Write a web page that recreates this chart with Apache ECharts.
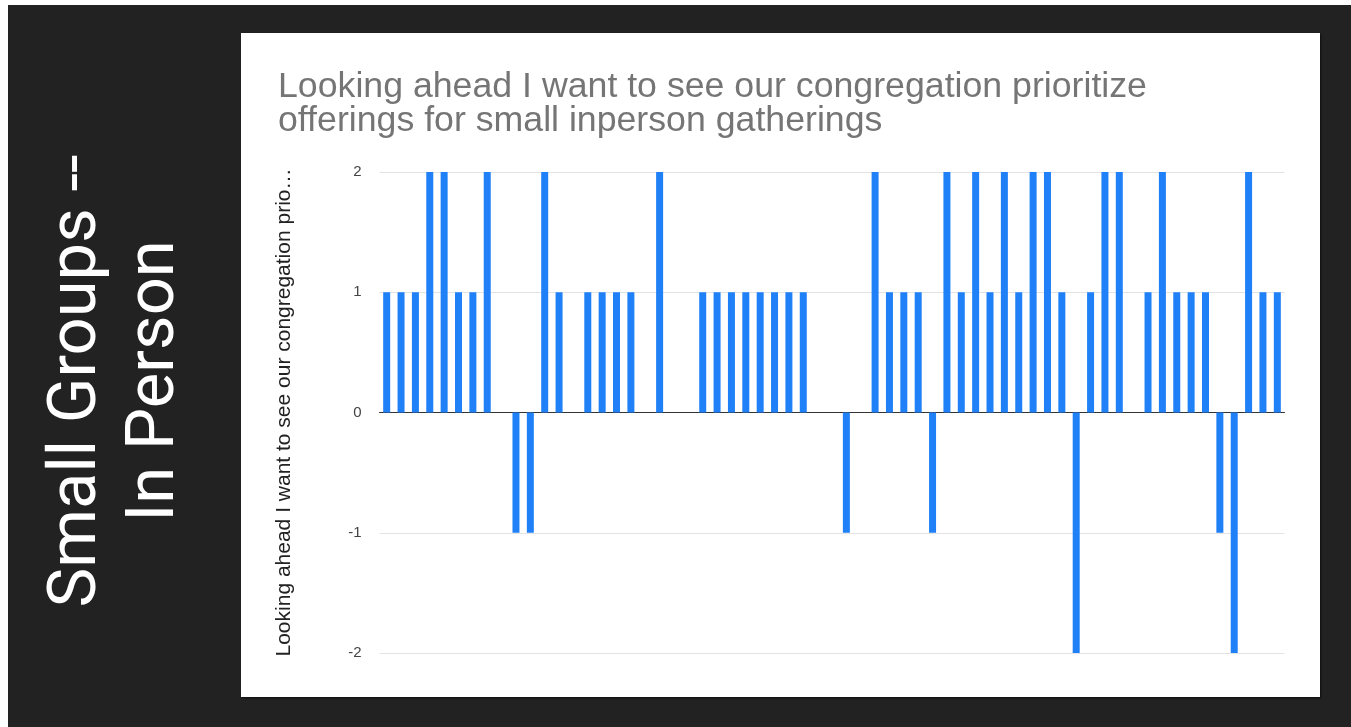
<!DOCTYPE html>
<html>
<head>
<meta charset="utf-8">
<title>Small Groups -- In Person</title>
<script src="https://cdn.jsdelivr.net/npm/echarts@6/dist/echarts.min.js"></script>
<style>
  html, body { margin: 0; padding: 0; background: #ffffff; }
  #slide { position: absolute; left: 8px; top: 5px; right: 0; bottom: 0; background: #222222; }
  #panel { position: absolute; left: 241px; top: 33px; width: 1079px; height: 664px; background: #ffffff;
           box-shadow: 1px 1px 2px rgba(0,0,0,0.6); }
  #chart { position: absolute; left: 0; top: 0; width: 1351px; height: 727px; }
</style>
</head>
<body>
<div id="slide"></div>
<div id="panel"></div>
<div id="chart"></div>
<script>
// Respondents (one bar each)
const respondents = ['1','2','3','4','5','6','7','8','9','10','11','12','13','14','15','16','17','18','19','20',
  '21','22','23','24','25','26','27','28','29','30','31','32','33','34','35','36','37','38','39','40',
  '41','42','43','44','45','46','47','48','49','50','51','52','53','54','55','56','57','58','59','60',
  '61','62','63'];

// Answer score for each respondent (-2 .. 2)
const scores = [1, 1, 1, 2, 2, 1, 1, 2, 0, -1, -1, 2, 1, 0, 1, 1, 1, 1, 0, 2,
  0, 0, 1, 1, 1, 1, 1, 1, 1, 1, 0, 0, -1, 0, 2, 1, 1, 1, -1, 2,
  1, 2, 1, 2, 1, 2, 2, 1, -2, 1, 2, 2, 0, 1, 2, 1, 1, 1, -1, -2,
  2, 1, 1];

const yTicks = [-2, -1, 0, 1, 2];

const chartTitle = 'Looking ahead I want to see our congregation prioritize\nofferings for small inperson gatherings';
const yAxisName = 'Looking ahead I want to see our congregation prio\u2026';
const slideLabel = 'Small Groups --\nIn Person';

const chart = echarts.init(document.getElementById('chart'));

const option = {
  animation: false,
  backgroundColor: 'transparent',
  title: {
    text: chartTitle,
    left: 273,
    top: 65,
    textStyle: {
      fontFamily: 'Liberation Sans, Arial, sans-serif',
      fontSize: 35.7,
      lineHeight: 34,
      fontWeight: 'normal',
      color: '#757575'
    }
  },
  graphic: [{
    type: 'text',
    x: 117,
    y: 381,
    rotation: Math.PI / 2,
    style: {
      text: slideLabel,
      fill: '#ffffff',
      font: '67px Roboto, sans-serif',
      lineHeight: 78,
      align: 'center',
      verticalAlign: 'middle'
    }
  }],
  grid: {
    left: 379.5,
    right: 66.5,
    top: 172,
    bottom: 74
  },
  xAxis: {
    type: 'category',
    data: respondents,
    axisLine: { show: true, onZero: true, lineStyle: { color: '#333333', width: 1 } },
    axisTick: { show: false },
    axisLabel: { show: false },
    splitLine: { show: false }
  },
  yAxis: {
    type: 'value',
    min: yTicks[0],
    max: yTicks[yTicks.length - 1],
    interval: 1,
    name: yAxisName,
    nameLocation: 'middle',
    nameGap: 85,
    nameRotate: 90,
    nameTextStyle: {
      fontFamily: 'Liberation Sans, Arial, sans-serif',
      fontSize: 21,
      color: '#222222'
    },
    axisLine: { show: false },
    axisTick: { show: false },
    axisLabel: {
      margin: 18,
      fontFamily: 'Liberation Sans, Arial, sans-serif',
      fontSize: 15,
      color: '#444444'
    },
    splitLine: { lineStyle: { color: '#e3e3e3', width: 1 } }
  },
  series: [{
    type: 'bar',
    data: scores,
    barWidth: 7,
    itemStyle: { color: '#1f80f7' }
  }]
};

chart.setOption(option);
</script>
</body>
</html>
